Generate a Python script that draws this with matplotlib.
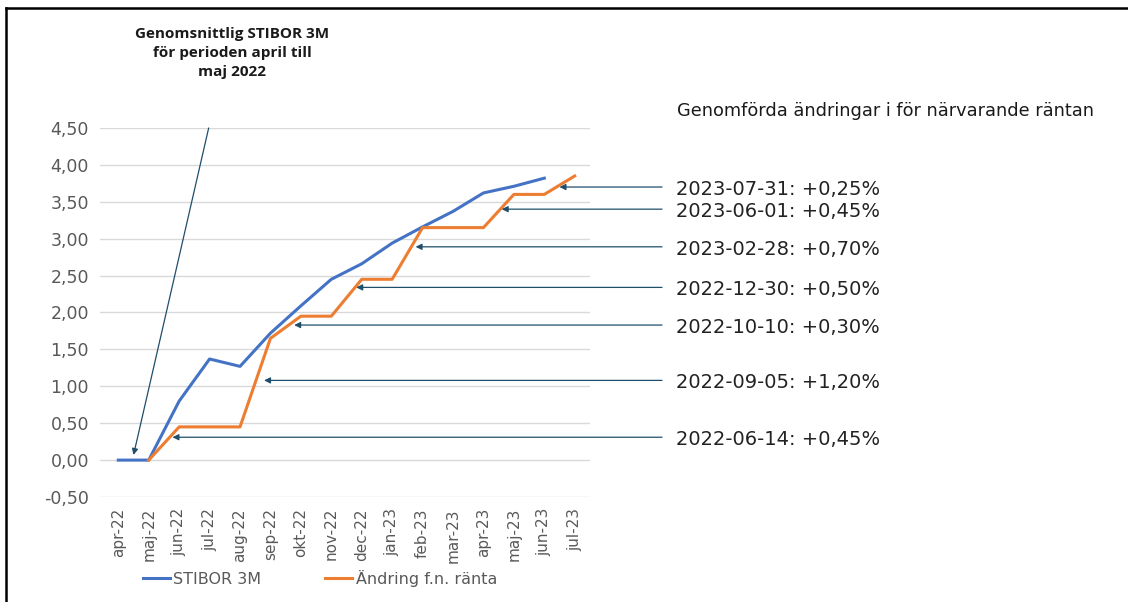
import matplotlib.pyplot as plt
import matplotlib.transforms as mtransforms
import numpy as np

# category axis
months = ["apr-22", "maj-22", "jun-22", "jul-22", "aug-22", "sep-22", "okt-22", "nov-22",
          "dec-22", "jan-23", "feb-23", "mar-23", "apr-23", "maj-23", "jun-23", "jul-23"]

stibor = [0.00, 0.00, 0.80, 1.37, 1.27, 1.72, 2.09, 2.45,
          2.66, 2.94, 3.16, 3.37, 3.62, 3.71, 3.82, np.nan]
andring = [np.nan, 0.00, 0.45, 0.45, 0.45, 1.65, 1.95, 1.95,
           2.45, 2.45, 3.15, 3.15, 3.15, 3.60, 3.60, 3.85]

# rate changes and where their arrows point (category index, value)
change_labels = ["2023-07-31: +0,25%", "2023-06-01: +0,45%", "2023-02-28: +0,70%",
                 "2022-12-30: +0,50%", "2022-10-10: +0,30%", "2022-09-05: +1,20%",
                 "2022-06-14: +0,45%"]
arrow_x = [14.5, 12.6, 9.77, 7.82, 5.78, 4.79, 1.78]
arrow_y = [3.70, 3.40, 2.89, 2.34, 1.83, 1.08, 0.31]

BLUE = "#4472c4"
ORANGE = "#ed7d31"
ARROW = "#1f4e6b"
GRAY = "#595959"

fig = plt.figure(figsize=(11.28, 6.02), dpi=100)
ax = fig.add_axes([0.0887, 0.1744, 0.4343, 0.6130])

x = np.arange(len(months))
ax.plot(x, stibor, color=BLUE, lw=2.2, label="STIBOR 3M", zorder=3)
ax.plot(x, andring, color=ORANGE, lw=2.2, label="Ändring f.n. ränta", zorder=3)

ax.set_xlim(-0.6, 15.5)
ax.set_ylim(-0.5, 4.5)
yt = np.arange(-0.5, 4.51, 0.5)
ax.set_yticks(yt)
ax.set_yticklabels([f"{v:.2f}".replace(".", ",") for v in yt], color=GRAY, fontsize=12.5)
ax.set_xticks(x)
ax.set_xticklabels(months, rotation=90, color=GRAY, fontsize=11)
ax.tick_params(length=0, pad=8)
ax.grid(axis="y", color="#d9d9d9", lw=1)
ax.set_axisbelow(True)
for s in ax.spines.values():
    s.set_visible(False)

# horizontal arrows from the text on the right into the chart
blend = mtransforms.blended_transform_factory(fig.transFigure, ax.transData)
for lab, ax_x, ax_y in zip(change_labels, arrow_x, arrow_y):
    ax.annotate("", xy=(ax_x, ax_y), xycoords="data",
                xytext=(662 / 1128, ax_y), textcoords=blend,
                arrowprops=dict(arrowstyle="-|>", color=ARROW, lw=0.9,
                                mutation_scale=9, shrinkA=0, shrinkB=0))
    fig.text(676 / 1128, ax_y - 0.03, lab, fontsize=14, color="#222222", va="center",
             ha="left", transform=blend)

fig.text(677 / 1128, 1 - 111 / 602, "Genomförda ändringar i för närvarande räntan",
         fontsize=12.8, color="#1a1a1a", va="center", ha="left")

# top-left note with arrow down to the start
fig.text(232 / 1128, 1 - 53 / 602, "Genomsnittlig STIBOR 3M\nför perioden april till\nmaj 2022",
         fontsize=11, fontweight="bold", ha="center", va="center", linespacing=1.45,
         family="Open Sans", color="#1a1a1a")
ax.annotate("", xy=(0.5, 0.07), xycoords="data", xytext=(2.97, 4.5), textcoords="data",
            arrowprops=dict(arrowstyle="-|>", color=ARROW, lw=0.9,
                            mutation_scale=9, shrinkA=0, shrinkB=0))

leg = fig.legend(loc="center", bbox_to_anchor=(320 / 1128, 1 - 578 / 602), ncol=2,
                 frameon=False, fontsize=11.5, handlelength=1.7, handletextpad=0.2,
                 columnspacing=4.0)
for t in leg.get_texts():
    t.set_color(GRAY)

# frame lines on the left and top of the picture
fig.add_artist(plt.Line2D([6 / 1128, 6 / 1128], [0, 1 - 8 / 602], color="black", lw=1.8,
                          transform=fig.transFigure))
fig.add_artist(plt.Line2D([6 / 1128, 1], [1 - 8 / 602, 1 - 8 / 602], color="black", lw=1.8,
                          transform=fig.transFigure))

fig.savefig("out.png", dpi=100)
